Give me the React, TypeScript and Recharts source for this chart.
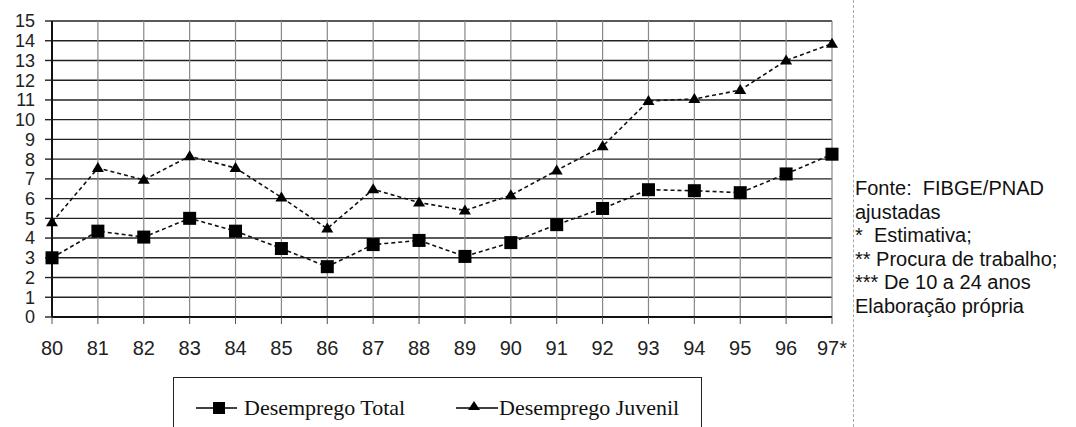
import React from 'react';
import { LineChart, Line, XAxis, YAxis, CartesianGrid, Legend } from 'recharts';

const years = ['80', '81', '82', '83', '84', '85', '86', '87', '88', '89', '90', '91', '92', '93', '94', '95', '96', '97*'];
const totalValues = [3.0, 4.35, 4.05, 5.0, 4.35, 3.47, 2.55, 3.67, 3.88, 3.07, 3.77, 4.68, 5.5, 6.45, 6.4, 6.3, 7.25, 8.25];
const juvenilValues = [4.8, 7.55, 6.95, 8.15, 7.55, 6.06, 4.48, 6.47, 5.8, 5.4, 6.17, 7.43, 8.65, 10.95, 11.05, 11.5, 13.0, 13.85];
const yTicks = [0, 1, 2, 3, 4, 5, 6, 7, 8, 9, 10, 11, 12, 13, 14, 15];
const seriesNames = ['Desemprego Total', 'Desemprego Juvenil'];
const notes = ['Fonte:  FIBGE/PNAD', 'ajustadas', '*  Estimativa;', '** Procura de trabalho;', '*** De 10 a 24 anos', 'Elaboração própria'];

const data = years.map((y, i) => ({ year: y, total: totalValues[i], juvenil: juvenilValues[i] }));

const SquareDot = (props: any) => {
  const { cx, cy } = props;
  if (cx == null || cy == null) return null;
  return <rect x={cx - 6.5} y={cy - 6.5} width={13} height={13} fill="#000" />;
};

const TriangleDot = (props: any) => {
  const { cx, cy } = props;
  if (cx == null || cy == null) return null;
  return <path d={`M${cx},${cy - 6} L${cx + 6},${cy + 4} L${cx - 6},${cy + 4} Z`} fill="#000" />;
};

const LegendContent = () => (
  <div
    style={{
      position: 'absolute',
      left: 0,
      top: 0,
      width: 529,
      height: 70,
      border: '1.5px solid #222',
      boxSizing: 'border-box',
      fontFamily: '"Liberation Serif", "DejaVu Serif", serif',
      fontSize: 22,
      color: '#111',
    }}
  >
    <svg width={529} height={70} style={{ position: 'absolute', left: 0, top: 0 }}>
      <line x1={22} y1={30} x2={63} y2={30} stroke="#000" strokeWidth={1.5} />
      <rect x={39} y={24} width={12} height={12} fill="#000" />
      <text x={70} y={37} fontFamily='"Liberation Serif", serif' fontSize={22} fill="#111">{seriesNames[0]}</text>
      <line x1={282} y1={30} x2={324} y2={30} stroke="#000" strokeWidth={1.5} />
      <path d="M300,23 L306,32 L294,32 Z" fill="#000" />
      <text x={325} y={37} fontFamily='"Liberation Serif", serif' fontSize={22} fill="#111">{seriesNames[1]}</text>
    </svg>
  </div>
);

export default function App() {
  return (
    <div style={{ position: 'absolute', left: 0, top: 0, width: 1076, height: 427, background: '#fff', overflow: 'hidden' }}>
      <LineChart
        width={1076}
        height={427}
        data={data}
        margin={{ top: 21, right: 244, left: 0, bottom: 70 }}
      >
        <CartesianGrid stroke="#222" strokeWidth={1.4} vertical={false} />
        <CartesianGrid stroke="#888" strokeWidth={1.2} horizontal={false} />
        <XAxis
          dataKey="year"
          height={40}
          tickSize={7}
          tickMargin={17}
          axisLine={{ stroke: '#111', strokeWidth: 2 }}
          tickLine={{ stroke: '#555' }}
          tick={{ fontFamily: '"Liberation Sans", Arial, sans-serif', fontSize: 20, fill: '#222' }}
          interval={0}
        />
        <YAxis
          type="number"
          domain={[0, 15]}
          ticks={yTicks}
          width={52}
          tickSize={7}
          tickMargin={10}
          interval={0}
          axisLine={{ stroke: '#111', strokeWidth: 2 }}
          tickLine={{ stroke: '#222', strokeWidth: 1.4 }}
          tick={{ fontFamily: '"Liberation Sans", Arial, sans-serif', fontSize: 18, fill: '#222' }}
        />
        <Legend
          layout="horizontal"
          verticalAlign="middle"
          align="center"
          wrapperStyle={{ left: 173, top: 377, width: 529, height: 70 }}
          content={() => <LegendContent />}
        />
        <Line
          type="linear"
          dataKey="total"
          name={seriesNames[0]}
          stroke="#111"
          strokeWidth={1.6}
          strokeDasharray="4 3"
          dot={<SquareDot />}
          isAnimationActive={false}
        />
        <Line
          type="linear"
          dataKey="juvenil"
          name={seriesNames[1]}
          stroke="#111"
          strokeWidth={1.6}
          strokeDasharray="4 3"
          dot={<TriangleDot />}
          isAnimationActive={false}
        />
      </LineChart>
      <div
        style={{
          position: 'absolute',
          left: 853,
          top: 0,
          width: 0,
          height: 427,
          borderLeft: '1px dashed #aaa',
        }}
      />
      <div
        style={{
          position: 'absolute',
          left: 855,
          top: 177,
          fontFamily: '"Liberation Sans", Arial, sans-serif',
          fontSize: 20,
          lineHeight: '23.5px',
          color: '#111',
          whiteSpace: 'pre',
        }}
      >
        {notes.map((n, i) => (
          <div key={i}>{n}</div>
        ))}
      </div>
    </div>
  );
}
